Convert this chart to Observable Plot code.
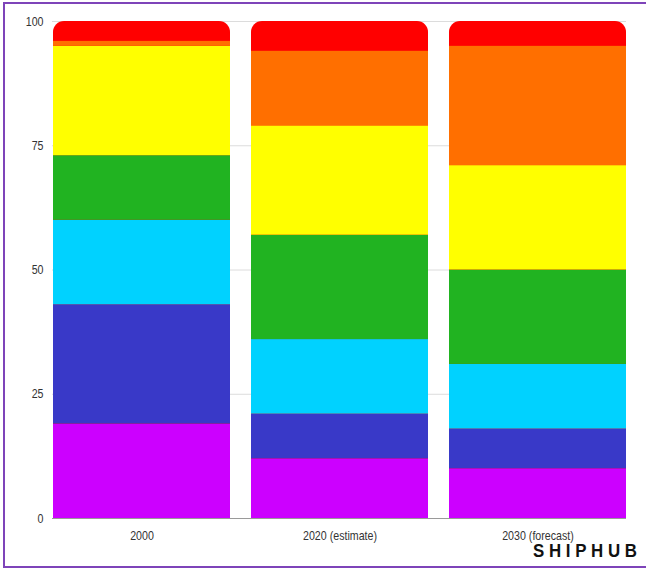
<!DOCTYPE html>
<html>
<head>
<meta charset="utf-8">
<script src="https://cdn.jsdelivr.net/npm/d3@7"></script>
<script src="https://cdn.jsdelivr.net/npm/@observablehq/plot@0.6"></script>
<style>
  html, body { margin: 0; padding: 0; background: #fff; }
  body { width: 646px; height: 574px; position: relative; overflow: hidden; }
  #frame { position: absolute; left: 3px; top: 2px; width: 700px; height: 562px; border: 2px solid #7e44b9; box-sizing: content-box; pointer-events: none; }
  #chart { position: absolute; left: 0; top: 0; }
  #logo { position: absolute; right: 9px; top: 542px; font-family: "Liberation Sans", Arial, sans-serif; font-weight: bold; font-size: 18px; letter-spacing: 5px; color: #111; line-height: 1; white-space: nowrap; transform-origin: right center; }
  #logo span { letter-spacing: 0; }
</style>
</head>
<body>
<div id="chart"></div>
<div id="frame"></div>
<div id="logo">SHIPHU<span>B</span></div>
<script>
const categories = ["2000", "2020 (estimate)", "2030 (forecast)"];
const seriesNames = ["S1", "S2", "S3", "S4", "S5", "S6", "S7"];
const s1 = [19, 12, 10];
const s2 = [24, 9, 8];
const s3 = [17, 15, 13];
const s4 = [13, 21, 19];
const s5 = [22, 22, 21];
const s6 = [1, 15, 24];
const s7 = [4, 6, 5];
const colors = ["#cc00ff", "#3939c8", "#00d2ff", "#21b321", "#ffff00", "#ff6f00", "#ff0000"];
const yTicks = [0, 25, 50, 75, 100];

const seriesValues = [s1, s2, s3, s4, s5, s6, s7];
const rows = [];
seriesNames.forEach((s, i) => categories.forEach((c, j) => rows.push({category: c, series: s, value: seriesValues[i][j]})));
const topSeries = seriesNames[seriesNames.length - 1];
const stacked = rows.filter(d => d.series !== topSeries);
const totals = categories.map((c, j) => ({category: c, total: d3.sum(seriesValues, v => v[j])}));

const font = '"Liberation Sans", Arial, sans-serif';
const chart = Plot.plot({
  width: 646,
  height: 574,
  marginLeft: 52,
  marginRight: 20,
  marginTop: 21,
  marginBottom: 56,
  style: {fontFamily: font, fontSize: "13px", color: "#333", background: "transparent"},
  x: {domain: categories, paddingInner: 0.108, paddingOuter: 0, label: null, tickSize: 0, tickPadding: 12},
  y: {domain: [0, 100], ticks: yTicks, label: null, tickSize: 0, tickPadding: 9, grid: false},
  color: {domain: seriesNames, range: colors},
  marks: [
    Plot.ruleY(yTicks.filter(t => t > 0), {stroke: "#dcdcdc", strokeWidth: 1, strokeOpacity: 1}),
    Plot.barY(totals, {x: "category", y: "total", fill: colors[colors.length - 1], rx: 11}),
    Plot.barY(stacked, {x: "category", y: "value", fill: "series", order: seriesNames}),
    Plot.ruleY([0], {stroke: "#9a9a9a", strokeWidth: 1})
  ]
});
document.getElementById("chart").appendChild(chart);

// narrow the axis labels (condensed look) by wrapping each in a horizontally scaled group
const svgNS = "http://www.w3.org/2000/svg";
chart.querySelectorAll("text").forEach(t => {
  const r = t.getBoundingClientRect();
  if (!r.width) return;
  const anchor = getComputedStyle(t).textAnchor;
  const cx = anchor === "end" ? r.right : anchor === "start" ? r.left : (r.left + r.right) / 2;
  const parent = t.parentNode;
  const m = parent.getScreenCTM().inverse();
  const p = new DOMPoint(cx, r.top).matrixTransform(m);
  const g = document.createElementNS(svgNS, "g");
  g.setAttribute("transform", `translate(${p.x},0) scale(0.82,1) translate(${-p.x},0)`);
  parent.insertBefore(g, t);
  g.appendChild(t);
});

const logo = document.getElementById("logo");
const w = logo.getBoundingClientRect().width;
logo.style.transform = `scaleX(${104 / w})`;
</script>
</body>
</html>
